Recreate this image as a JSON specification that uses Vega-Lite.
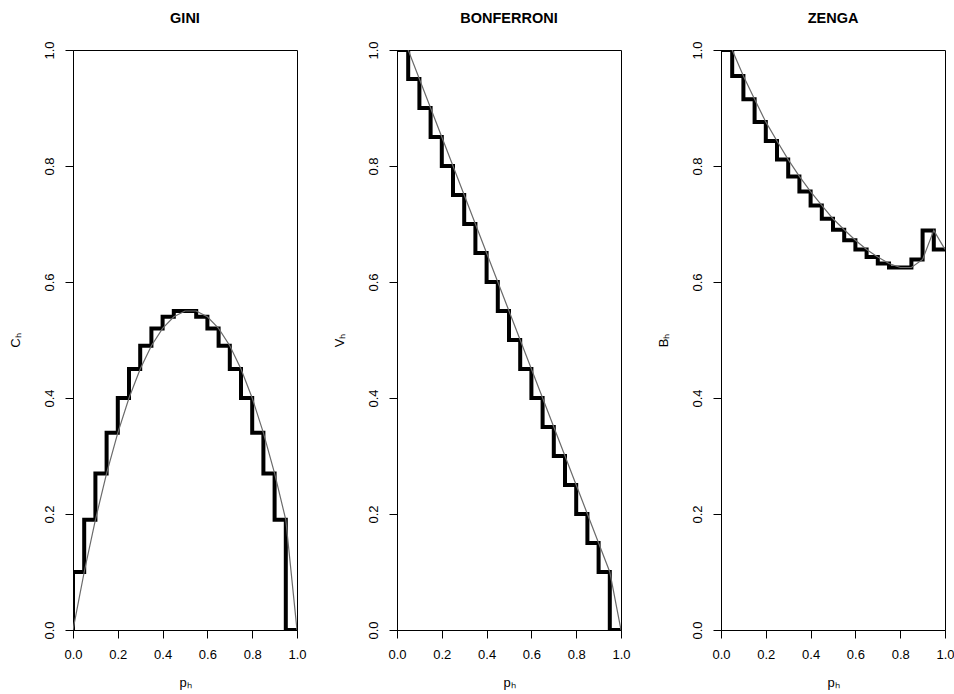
{
  "$schema": "https://vega.github.io/schema/vega-lite/v6.json",
  "padding": {"left": 8, "top": 10, "right": 5, "bottom": 0},
  "bounds": "flush",
  "spacing": 100,
  "config": {
    "font": "Liberation Sans",
    "view": {"stroke": "black", "strokeWidth": 1},
    "axis": {"grid": false, "domainColor": "black", "tickColor": "black", "labelColor": "black", "titleColor": "black", "labelFontSize": 13, "titleFontSize": 13, "titleFontWeight": "normal", "tickSize": 8, "labelFont": "Liberation Sans", "titleFont": "Liberation Sans"},
    "title": {"fontSize": 14.5, "fontWeight": "bold", "color": "black", "font": "Liberation Sans"}
  },
  "datasets": {
    "d": [
      {"panel": "GINI", "kind": "step", "i": 0, "p": 0, "v": 0},
      {"panel": "GINI", "kind": "step", "i": 1, "p": 0, "v": 0.10},
      {"panel": "GINI", "kind": "step", "i": 2, "p": 0.05, "v": 0.19},
      {"panel": "GINI", "kind": "step", "i": 3, "p": 0.10, "v": 0.27},
      {"panel": "GINI", "kind": "step", "i": 4, "p": 0.15, "v": 0.34},
      {"panel": "GINI", "kind": "step", "i": 5, "p": 0.20, "v": 0.40},
      {"panel": "GINI", "kind": "step", "i": 6, "p": 0.25, "v": 0.45},
      {"panel": "GINI", "kind": "step", "i": 7, "p": 0.30, "v": 0.49},
      {"panel": "GINI", "kind": "step", "i": 8, "p": 0.35, "v": 0.52},
      {"panel": "GINI", "kind": "step", "i": 9, "p": 0.40, "v": 0.54},
      {"panel": "GINI", "kind": "step", "i": 10, "p": 0.45, "v": 0.55},
      {"panel": "GINI", "kind": "step", "i": 11, "p": 0.50, "v": 0.55},
      {"panel": "GINI", "kind": "step", "i": 12, "p": 0.55, "v": 0.54},
      {"panel": "GINI", "kind": "step", "i": 13, "p": 0.60, "v": 0.52},
      {"panel": "GINI", "kind": "step", "i": 14, "p": 0.65, "v": 0.49},
      {"panel": "GINI", "kind": "step", "i": 15, "p": 0.70, "v": 0.45},
      {"panel": "GINI", "kind": "step", "i": 16, "p": 0.75, "v": 0.40},
      {"panel": "GINI", "kind": "step", "i": 17, "p": 0.80, "v": 0.34},
      {"panel": "GINI", "kind": "step", "i": 18, "p": 0.85, "v": 0.27},
      {"panel": "GINI", "kind": "step", "i": 19, "p": 0.90, "v": 0.19},
      {"panel": "GINI", "kind": "step", "i": 20, "p": 0.95, "v": 0},
      {"panel": "GINI", "kind": "step", "i": 21, "p": 1.0, "v": 0},
      {"panel": "GINI", "kind": "curve", "i": 0, "p": 0, "v": 0},
      {"panel": "GINI", "kind": "curve", "i": 1, "p": 0.05, "v": 0.10},
      {"panel": "GINI", "kind": "curve", "i": 2, "p": 0.10, "v": 0.19},
      {"panel": "GINI", "kind": "curve", "i": 3, "p": 0.15, "v": 0.27},
      {"panel": "GINI", "kind": "curve", "i": 4, "p": 0.20, "v": 0.34},
      {"panel": "GINI", "kind": "curve", "i": 5, "p": 0.25, "v": 0.40},
      {"panel": "GINI", "kind": "curve", "i": 6, "p": 0.30, "v": 0.45},
      {"panel": "GINI", "kind": "curve", "i": 7, "p": 0.35, "v": 0.49},
      {"panel": "GINI", "kind": "curve", "i": 8, "p": 0.40, "v": 0.52},
      {"panel": "GINI", "kind": "curve", "i": 9, "p": 0.45, "v": 0.54},
      {"panel": "GINI", "kind": "curve", "i": 10, "p": 0.50, "v": 0.55},
      {"panel": "GINI", "kind": "curve", "i": 11, "p": 0.55, "v": 0.55},
      {"panel": "GINI", "kind": "curve", "i": 12, "p": 0.60, "v": 0.54},
      {"panel": "GINI", "kind": "curve", "i": 13, "p": 0.65, "v": 0.52},
      {"panel": "GINI", "kind": "curve", "i": 14, "p": 0.70, "v": 0.49},
      {"panel": "GINI", "kind": "curve", "i": 15, "p": 0.75, "v": 0.45},
      {"panel": "GINI", "kind": "curve", "i": 16, "p": 0.80, "v": 0.40},
      {"panel": "GINI", "kind": "curve", "i": 17, "p": 0.85, "v": 0.34},
      {"panel": "GINI", "kind": "curve", "i": 18, "p": 0.90, "v": 0.27},
      {"panel": "GINI", "kind": "curve", "i": 19, "p": 0.95, "v": 0.19},
      {"panel": "GINI", "kind": "curve", "i": 20, "p": 1.0, "v": 0},

      {"panel": "BONFERRONI", "kind": "step", "i": 0, "p": 0, "v": 1.0},
      {"panel": "BONFERRONI", "kind": "step", "i": 1, "p": 0.05, "v": 0.95},
      {"panel": "BONFERRONI", "kind": "step", "i": 2, "p": 0.10, "v": 0.90},
      {"panel": "BONFERRONI", "kind": "step", "i": 3, "p": 0.15, "v": 0.85},
      {"panel": "BONFERRONI", "kind": "step", "i": 4, "p": 0.20, "v": 0.80},
      {"panel": "BONFERRONI", "kind": "step", "i": 5, "p": 0.25, "v": 0.75},
      {"panel": "BONFERRONI", "kind": "step", "i": 6, "p": 0.30, "v": 0.70},
      {"panel": "BONFERRONI", "kind": "step", "i": 7, "p": 0.35, "v": 0.65},
      {"panel": "BONFERRONI", "kind": "step", "i": 8, "p": 0.40, "v": 0.60},
      {"panel": "BONFERRONI", "kind": "step", "i": 9, "p": 0.45, "v": 0.55},
      {"panel": "BONFERRONI", "kind": "step", "i": 10, "p": 0.50, "v": 0.50},
      {"panel": "BONFERRONI", "kind": "step", "i": 11, "p": 0.55, "v": 0.45},
      {"panel": "BONFERRONI", "kind": "step", "i": 12, "p": 0.60, "v": 0.40},
      {"panel": "BONFERRONI", "kind": "step", "i": 13, "p": 0.65, "v": 0.35},
      {"panel": "BONFERRONI", "kind": "step", "i": 14, "p": 0.70, "v": 0.30},
      {"panel": "BONFERRONI", "kind": "step", "i": 15, "p": 0.75, "v": 0.25},
      {"panel": "BONFERRONI", "kind": "step", "i": 16, "p": 0.80, "v": 0.20},
      {"panel": "BONFERRONI", "kind": "step", "i": 17, "p": 0.85, "v": 0.15},
      {"panel": "BONFERRONI", "kind": "step", "i": 18, "p": 0.90, "v": 0.10},
      {"panel": "BONFERRONI", "kind": "step", "i": 19, "p": 0.95, "v": 0},
      {"panel": "BONFERRONI", "kind": "step", "i": 20, "p": 1.0, "v": 0},
      {"panel": "BONFERRONI", "kind": "curve", "i": 1, "p": 0.05, "v": 1.0},
      {"panel": "BONFERRONI", "kind": "curve", "i": 2, "p": 0.10, "v": 0.95},
      {"panel": "BONFERRONI", "kind": "curve", "i": 3, "p": 0.15, "v": 0.90},
      {"panel": "BONFERRONI", "kind": "curve", "i": 4, "p": 0.20, "v": 0.85},
      {"panel": "BONFERRONI", "kind": "curve", "i": 5, "p": 0.25, "v": 0.80},
      {"panel": "BONFERRONI", "kind": "curve", "i": 6, "p": 0.30, "v": 0.75},
      {"panel": "BONFERRONI", "kind": "curve", "i": 7, "p": 0.35, "v": 0.70},
      {"panel": "BONFERRONI", "kind": "curve", "i": 8, "p": 0.40, "v": 0.65},
      {"panel": "BONFERRONI", "kind": "curve", "i": 9, "p": 0.45, "v": 0.60},
      {"panel": "BONFERRONI", "kind": "curve", "i": 10, "p": 0.50, "v": 0.55},
      {"panel": "BONFERRONI", "kind": "curve", "i": 11, "p": 0.55, "v": 0.50},
      {"panel": "BONFERRONI", "kind": "curve", "i": 12, "p": 0.60, "v": 0.45},
      {"panel": "BONFERRONI", "kind": "curve", "i": 13, "p": 0.65, "v": 0.40},
      {"panel": "BONFERRONI", "kind": "curve", "i": 14, "p": 0.70, "v": 0.35},
      {"panel": "BONFERRONI", "kind": "curve", "i": 15, "p": 0.75, "v": 0.30},
      {"panel": "BONFERRONI", "kind": "curve", "i": 16, "p": 0.80, "v": 0.25},
      {"panel": "BONFERRONI", "kind": "curve", "i": 17, "p": 0.85, "v": 0.20},
      {"panel": "BONFERRONI", "kind": "curve", "i": 18, "p": 0.90, "v": 0.15},
      {"panel": "BONFERRONI", "kind": "curve", "i": 19, "p": 0.95, "v": 0.10},
      {"panel": "BONFERRONI", "kind": "curve", "i": 20, "p": 1.0, "v": 0},

      {"panel": "ZENGA", "kind": "step", "i": 0, "p": 0, "v": 1.0},
      {"panel": "ZENGA", "kind": "step", "i": 1, "p": 0.05, "v": 0.955},
      {"panel": "ZENGA", "kind": "step", "i": 2, "p": 0.10, "v": 0.915},
      {"panel": "ZENGA", "kind": "step", "i": 3, "p": 0.15, "v": 0.876},
      {"panel": "ZENGA", "kind": "step", "i": 4, "p": 0.20, "v": 0.843},
      {"panel": "ZENGA", "kind": "step", "i": 5, "p": 0.25, "v": 0.811},
      {"panel": "ZENGA", "kind": "step", "i": 6, "p": 0.30, "v": 0.782},
      {"panel": "ZENGA", "kind": "step", "i": 7, "p": 0.35, "v": 0.756},
      {"panel": "ZENGA", "kind": "step", "i": 8, "p": 0.40, "v": 0.732},
      {"panel": "ZENGA", "kind": "step", "i": 9, "p": 0.45, "v": 0.709},
      {"panel": "ZENGA", "kind": "step", "i": 10, "p": 0.50, "v": 0.690},
      {"panel": "ZENGA", "kind": "step", "i": 11, "p": 0.55, "v": 0.672},
      {"panel": "ZENGA", "kind": "step", "i": 12, "p": 0.60, "v": 0.656},
      {"panel": "ZENGA", "kind": "step", "i": 13, "p": 0.65, "v": 0.643},
      {"panel": "ZENGA", "kind": "step", "i": 14, "p": 0.70, "v": 0.632},
      {"panel": "ZENGA", "kind": "step", "i": 15, "p": 0.75, "v": 0.625},
      {"panel": "ZENGA", "kind": "step", "i": 16, "p": 0.80, "v": 0.625},
      {"panel": "ZENGA", "kind": "step", "i": 17, "p": 0.85, "v": 0.639},
      {"panel": "ZENGA", "kind": "step", "i": 18, "p": 0.90, "v": 0.689},
      {"panel": "ZENGA", "kind": "step", "i": 19, "p": 0.95, "v": 0.656},
      {"panel": "ZENGA", "kind": "step", "i": 20, "p": 1.0, "v": 0.656},
      {"panel": "ZENGA", "kind": "curve", "i": 1, "p": 0.05, "v": 1.0},
      {"panel": "ZENGA", "kind": "curve", "i": 2, "p": 0.10, "v": 0.955},
      {"panel": "ZENGA", "kind": "curve", "i": 3, "p": 0.15, "v": 0.915},
      {"panel": "ZENGA", "kind": "curve", "i": 4, "p": 0.20, "v": 0.876},
      {"panel": "ZENGA", "kind": "curve", "i": 5, "p": 0.25, "v": 0.843},
      {"panel": "ZENGA", "kind": "curve", "i": 6, "p": 0.30, "v": 0.811},
      {"panel": "ZENGA", "kind": "curve", "i": 7, "p": 0.35, "v": 0.782},
      {"panel": "ZENGA", "kind": "curve", "i": 8, "p": 0.40, "v": 0.756},
      {"panel": "ZENGA", "kind": "curve", "i": 9, "p": 0.45, "v": 0.732},
      {"panel": "ZENGA", "kind": "curve", "i": 10, "p": 0.50, "v": 0.709},
      {"panel": "ZENGA", "kind": "curve", "i": 11, "p": 0.55, "v": 0.690},
      {"panel": "ZENGA", "kind": "curve", "i": 12, "p": 0.60, "v": 0.672},
      {"panel": "ZENGA", "kind": "curve", "i": 13, "p": 0.65, "v": 0.656},
      {"panel": "ZENGA", "kind": "curve", "i": 14, "p": 0.70, "v": 0.643},
      {"panel": "ZENGA", "kind": "curve", "i": 15, "p": 0.75, "v": 0.632},
      {"panel": "ZENGA", "kind": "curve", "i": 16, "p": 0.80, "v": 0.625},
      {"panel": "ZENGA", "kind": "curve", "i": 17, "p": 0.85, "v": 0.625},
      {"panel": "ZENGA", "kind": "curve", "i": 18, "p": 0.90, "v": 0.639},
      {"panel": "ZENGA", "kind": "curve", "i": 19, "p": 0.95, "v": 0.689},
      {"panel": "ZENGA", "kind": "curve", "i": 20, "p": 1.0, "v": 0.656}
    ]
  },
  "hconcat": [
    {
      "title": {"text": "GINI", "offset": 0, "baseline": "bottom"},
      "width": 224, "height": 580,
      "data": {"name": "d"},
      "transform": [{"filter": "datum.panel === 'GINI'"}],
      "encoding": {
        "x": {"field": "p", "type": "quantitative", "scale": {"domain": [0, 1], "nice": false, "zero": false},
              "axis": {"values": [0, 0.2, 0.4, 0.6, 0.8, 1], "format": ".1f", "labelFlush": false, "labelPadding": 10, "title": "pₕ", "titleY": 52, "titleBaseline": "middle"}},
        "y": {"field": "v", "type": "quantitative", "scale": {"domain": [0, 1], "nice": false, "zero": false},
              "axis": {"values": [0, 0.2, 0.4, 0.6, 0.8, 1], "format": ".1f", "labelFlush": false, "labelAngle": -90, "labelAlign": "center", "labelBaseline": "bottom", "labelPadding": 9, "title": "Cₕ", "titleX": -58, "titleY": 290, "titleAngle": -90, "titleAlign": "center", "titleBaseline": "middle"}},
        "order": {"field": "i", "type": "quantitative"}
      },
      "layer": [
        {"transform": [{"filter": "datum.kind === 'step'"}], "mark": {"type": "line", "interpolate": "step-after", "color": "black", "strokeWidth": 4, "strokeJoin": "miter", "clip": true}},
        {"transform": [{"filter": "datum.kind === 'curve'"}], "mark": {"type": "line", "color": "#6a6a6a", "strokeWidth": 1.2, "clip": true}}
      ]
    },
    {
      "title": {"text": "BONFERRONI", "offset": 0, "baseline": "bottom"},
      "width": 224, "height": 580,
      "data": {"name": "d"},
      "transform": [{"filter": "datum.panel === 'BONFERRONI'"}],
      "encoding": {
        "x": {"field": "p", "type": "quantitative", "scale": {"domain": [0, 1], "nice": false, "zero": false},
              "axis": {"values": [0, 0.2, 0.4, 0.6, 0.8, 1], "format": ".1f", "labelFlush": false, "labelPadding": 10, "title": "pₕ", "titleY": 52, "titleBaseline": "middle"}},
        "y": {"field": "v", "type": "quantitative", "scale": {"domain": [0, 1], "nice": false, "zero": false},
              "axis": {"values": [0, 0.2, 0.4, 0.6, 0.8, 1], "format": ".1f", "labelFlush": false, "labelAngle": -90, "labelAlign": "center", "labelBaseline": "bottom", "labelPadding": 9, "title": "Vₕ", "titleX": -58, "titleY": 290, "titleAngle": -90, "titleAlign": "center", "titleBaseline": "middle"}},
        "order": {"field": "i", "type": "quantitative"}
      },
      "layer": [
        {"transform": [{"filter": "datum.kind === 'step'"}], "mark": {"type": "line", "interpolate": "step-after", "color": "black", "strokeWidth": 4, "strokeJoin": "miter", "clip": true}},
        {"transform": [{"filter": "datum.kind === 'curve'"}], "mark": {"type": "line", "color": "#6a6a6a", "strokeWidth": 1.2, "clip": true}}
      ]
    },
    {
      "title": {"text": "ZENGA", "offset": 0, "baseline": "bottom"},
      "width": 224, "height": 580,
      "data": {"name": "d"},
      "transform": [{"filter": "datum.panel === 'ZENGA'"}],
      "encoding": {
        "x": {"field": "p", "type": "quantitative", "scale": {"domain": [0, 1], "nice": false, "zero": false},
              "axis": {"values": [0, 0.2, 0.4, 0.6, 0.8, 1], "format": ".1f", "labelFlush": false, "labelPadding": 10, "title": "pₕ", "titleY": 52, "titleBaseline": "middle"}},
        "y": {"field": "v", "type": "quantitative", "scale": {"domain": [0, 1], "nice": false, "zero": false},
              "axis": {"values": [0, 0.2, 0.4, 0.6, 0.8, 1], "format": ".1f", "labelFlush": false, "labelAngle": -90, "labelAlign": "center", "labelBaseline": "bottom", "labelPadding": 9, "title": "Bₕ", "titleX": -58, "titleY": 290, "titleAngle": -90, "titleAlign": "center", "titleBaseline": "middle"}},
        "order": {"field": "i", "type": "quantitative"}
      },
      "layer": [
        {"transform": [{"filter": "datum.kind === 'step'"}], "mark": {"type": "line", "interpolate": "step-after", "color": "black", "strokeWidth": 4, "strokeJoin": "miter", "clip": true}},
        {"transform": [{"filter": "datum.kind === 'curve'"}], "mark": {"type": "line", "color": "#6a6a6a", "strokeWidth": 1.2, "clip": true}}
      ]
    }
  ]
}
